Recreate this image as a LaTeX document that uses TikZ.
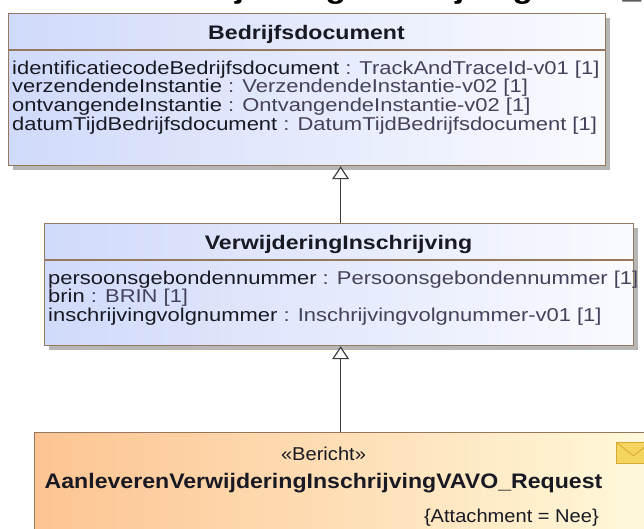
\documentclass[tikz,border=0pt]{standalone}
\usepackage{fontspec}
\setmainfont{Liberation Sans}
\newfontfamily\wideA[FakeStretch=1.18]{Liberation Sans}
\newfontfamily\wideB[FakeStretch=1.10]{Liberation Sans}
\newfontfamily\wideC[FakeStretch=1.08]{Liberation Sans}
\newfontfamily\wideT[FakeStretch=1.19]{Liberation Sans}
\usetikzlibrary{arrows.meta,shadows,calc}
\definecolor{brd}{RGB}{150,120,95}
\definecolor{blueL}{RGB}{208,218,250}
\definecolor{blueR}{RGB}{250,251,255}
\definecolor{orL}{RGB}{253,196,146}
\definecolor{orR}{RGB}{255,249,218}
\definecolor{typec}{RGB}{70,65,90}
\definecolor{namec}{RGB}{25,25,35}
\definecolor{envF}{RGB}{246,212,96}
\definecolor{envD}{RGB}{214,170,50}
\definecolor{shd}{RGB}{175,175,175}
\definecolor{conn}{RGB}{60,60,60}
\newcommand\myattr{\wideA\fontsize{18.6}{18.7}\selectfont}
\newcommand\myhdr{\wideA\bfseries\fontsize{19.6}{22}\selectfont}
\begin{document}
\begin{tikzpicture}[x=1pt,y=-1pt,
  classbox/.style={draw=brd, line width=1.2pt, left color=blueL, right color=blueR,
    drop shadow={shadow xshift=4pt, shadow yshift=-4pt, fill=shd, opacity=0.9},
    inner sep=0pt, anchor=north west},
  msgbox/.style={classbox, left color=orL, right color=orR},
  sepline/.style={draw=brd, line width=1.2pt},
  attr/.style={anchor=base west, inner sep=0pt, font=\myattr, text=namec},
  hdr/.style={anchor=base, inner sep=0pt, font=\myhdr, text=namec},
  gen/.style={draw=conn, line width=1.2pt, -{Triangle[length=13pt, width=17pt, open, fill=white]}}
]
\useasboundingbox (0,0) rectangle (644,528);
\fill[white] (0,0) rectangle (644,528);
% cut-off title at the top
\node[anchor=base west, inner sep=0pt, font=\wideT\bfseries\fontsize{28}{30}\selectfont] (ttl) at (-32,-2) {AanleverenVerwijderingInschrijvingVAVO\_Request};
% Bedrijfsdocument
\node[classbox, minimum width=597pt, minimum height=152pt] (bd) at (8,13) {};
\coordinate (s1) at (0,50);
\draw[sepline] (bd.west |- s1) -- (bd.east |- s1);
\node[hdr] (bdh) at (306.5,39) {Bedrijfsdocument};
\node[attr] (bda1) at (12,74) {identificatiecodeBedrijfsdocument {\color{typec}: TrackAndTraceId-v01 [1]}};
\node[attr] (bda2) at (12,92.7) {verzendendeInstantie {\color{typec}: VerzendendeInstantie-v02 [1]}};
\node[attr] (bda3) at (12,111.4) {ontvangendeInstantie {\color{typec}: OntvangendeInstantie-v02 [1]}};
\node[attr] (bda4) at (12,130.1) {datumTijdBedrijfsdocument {\color{typec}: DatumTijdBedrijfsdocument [1]}};
% VerwijderingInschrijving
\node[classbox, minimum width=589pt, minimum height=122pt] (vi) at (44,223) {};
\coordinate (s2) at (0,260);
\draw[sepline] (vi.west |- s2) -- (vi.east |- s2);
\node[hdr] (vih) at (338.5,249) {VerwijderingInschrijving};
\node[attr] (via1) at (48,284) {persoonsgebondennummer {\color{typec}: Persoonsgebondennummer [1]}};
\node[attr] (via2) at (48,302.7) {brin {\color{typec}: BRIN [1]}};
\node[attr] (via3) at (48,321.4) {inschrijvingvolgnummer {\color{typec}: Inschrijvingvolgnummer-v01 [1]}};
% Bericht
\node[msgbox, minimum width=612pt, minimum height=120pt] (req) at (34,432) {};
\node[anchor=base, inner sep=0pt, font=\wideC\fontsize{18.6}{21}\selectfont, text=namec] (reqs) at (323.5,460) {«Bericht»};
\node[anchor=base, inner sep=0pt, font=\wideB\bfseries\fontsize{21}{24}\selectfont, text=namec] (reqn) at (323.5,488) {AanleverenVerwijderingInschrijvingVAVO\_Request};
\node[anchor=base east, inner sep=0pt, font=\wideC\fontsize{18.6}{21}\selectfont, text=namec] (reqt) at (599,522) {\{Attachment = Nee\}};
\node[draw=envD, fill=envF, line width=0.8pt, minimum width=34pt, minimum height=21pt, inner sep=0pt, anchor=north west] (env) at (616,442) {};
\draw[envD, line width=0.8pt] (env.north west) -- ($(env.center)+(0,-3pt)$) -- (env.north east);
% generalisations
\draw[gen] (req.north |- vi.north) -- (req.north |- bd.south);
\draw[gen] (req.north) -- (req.north |- vi.south);
\end{tikzpicture}
\end{document}
